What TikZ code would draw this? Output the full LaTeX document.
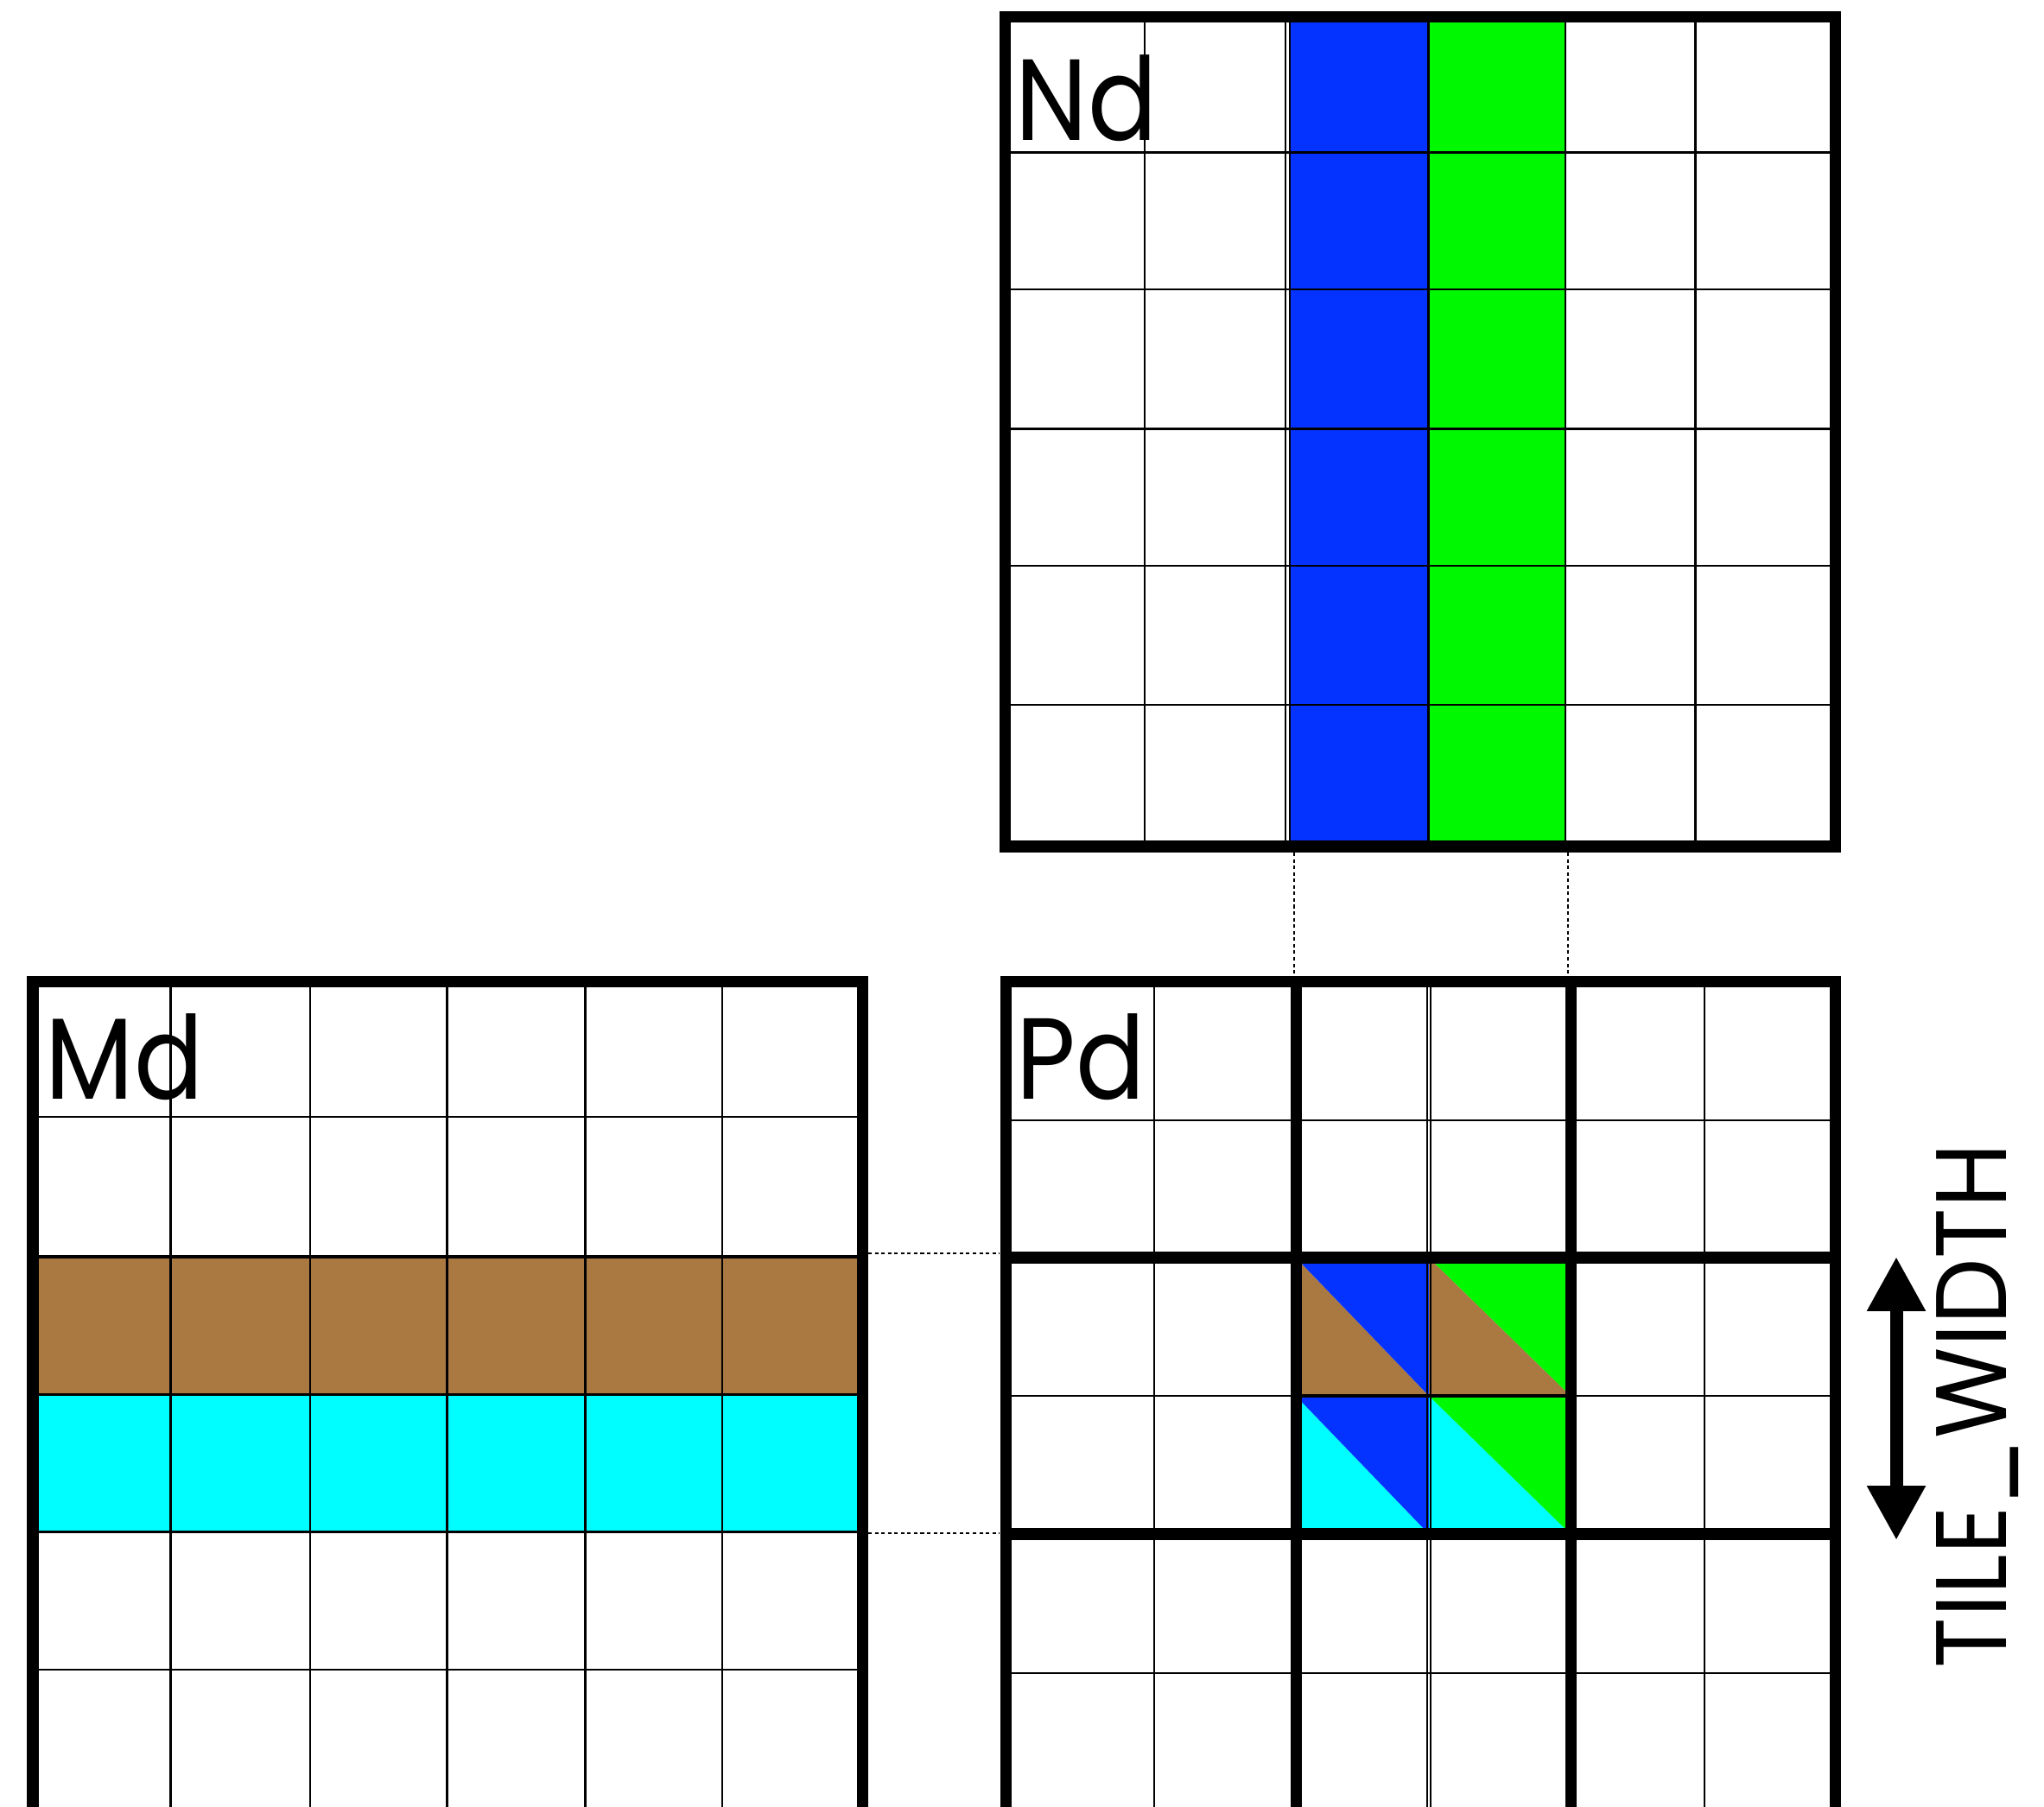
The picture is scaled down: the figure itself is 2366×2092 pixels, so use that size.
\documentclass[tikz,border=0pt]{standalone}
\usepackage{fontspec}
\setmainfont{Poppins}
\newfontfamily\lblfont[FakeStretch=0.89]{Poppins}
\newfontfamily\dimfont[FakeStretch=0.93]{Poppins}
\usetikzlibrary{arrows.meta}
\definecolor{cblue}{HTML}{0433FF}
\definecolor{cgreen}{HTML}{00F900}
\definecolor{cbrown}{HTML}{AA7942}
\definecolor{ccyan}{HTML}{00FDFF}
\tikzset{
  thinline/.style={line width=0.6pt, black},
  midline/.style={line width=1.1pt, black},
  thickline/.style={line width=3.7pt, black, line cap=rect},
  dotline/.style={line width=0.8pt, black, dash pattern=on 1.15pt off 1pt},
  biglabel/.style={inner sep=0pt, anchor=base west, font=\lblfont\fontsize{38}{38}\selectfont},
  dimlabel/.style={inner sep=0pt, anchor=base west, rotate=90, font=\dimfont\fontsize{33}{33}\selectfont},
  dimarrow/.style={line width=4.27pt, {Triangle[length=17.9pt,width=18.2pt]}-{Triangle[length=17.9pt,width=18.2pt]}}
}
\begin{document}
\begin{tikzpicture}[x=0.01cm, y=-0.01cm]
\clip (0,0) rectangle (2366,2092);
\fill[white] (0,0) rectangle (2366,2092);

% ---------------- Nd ----------------
\fill[cblue] (1492,19.5) rectangle (1653.5,980);
\fill[cgreen] (1653.5,19.5) rectangle (1812,980);
\foreach \x in {1325,1488,1493,1653.5,1812,1962.5}
  \draw[thinline] (\x,19.5) -- (\x,980);
\foreach \y in {176.5,335,496.5,655,816}
  \draw[thinline] (1163.5,\y) -- (2124.5,\y);
\draw[thickline] (1163.5,19.5) rectangle (2124.5,980);
\node[biglabel] (ndlabel) at (1175,163) {Nd};

% ---------------- Md ----------------
\fill[cbrown] (38,1455) rectangle (998.5,1614.5);
\fill[ccyan] (38,1614.5) rectangle (998.5,1773.5);
\foreach \x in {197.5,359,517.5,677.5,836}
  \draw[thinline] (\x,1136.5) -- (\x,2098);
\foreach \y in {1293,1614.5,1773.5,1933}
  \draw[thinline] (38,\y) -- (998.5,\y);
\draw[midline] (38,1455) -- (998.5,1455);
\draw[thickline] (38,1136.5) rectangle (998.5,2098);
\node[biglabel] (mdlabel) at (52,1273) {Md};

% ---------------- Pd ----------------
\fill[cbrown] (1500,1456) -- (1654,1616) -- (1500,1616) -- cycle;
\fill[cblue]  (1500,1456) -- (1654,1456) -- (1654,1616) -- cycle;
\fill[cbrown] (1654,1456) -- (1818,1616) -- (1654,1616) -- cycle;
\fill[cgreen] (1654,1456) -- (1818,1456) -- (1818,1616) -- cycle;
\fill[ccyan]  (1500,1616) -- (1654,1776) -- (1500,1776) -- cycle;
\fill[cblue]  (1500,1616) -- (1654,1616) -- (1654,1776) -- cycle;
\fill[ccyan]  (1654,1616) -- (1818,1776) -- (1654,1776) -- cycle;
\fill[cgreen] (1654,1616) -- (1818,1616) -- (1818,1776) -- cycle;
\foreach \x in {1336,1652,1656,1973}
  \draw[thinline] (\x,1136.5) -- (\x,2098);
\foreach \y in {1297,1616,1937}
  \draw[thinline] (1164,\y) -- (2124.5,\y);
\draw[midline] (1500,1616) -- (1818,1616);
\foreach \x in {1500,1818}
  \draw[thickline] (\x,1136.5) -- (\x,2098);
\foreach \y in {1456,1776}
  \draw[thickline] (1164,\y) -- (2124.5,\y);
\draw[thickline] (1164,1136.5) rectangle (2124.5,2098);
\node[biglabel] (pdlabel) at (1176,1273) {Pd};

% ---------------- dotted connectors ----------------
\coordinate (ndA) at (1498,987);
\coordinate (pdA) at (1498,1130);
\coordinate (ndB) at (1815,987);
\coordinate (pdB) at (1815,1130);
\coordinate (mdA) at (1005,1451);
\coordinate (pdC) at (1157,1451);
\coordinate (mdB) at (1005,1775);
\coordinate (pdD) at (1157,1775);
\draw[dotline] (ndA) -- (pdA);
\draw[dotline] (ndB) -- (pdB);
\draw[dotline] (mdA) -- (pdC);
\draw[dotline] (mdB) -- (pdD);

% ---------------- dimension arrow ----------------
\coordinate (arrlo) at (2195,1783);
\coordinate (arrhi) at (2195,1455);
\draw[dimarrow] (arrlo) -- (arrhi);
\node[dimlabel] (tilew) at (2322,1932) {TILE\_WIDTH};
\end{tikzpicture}
\end{document}
